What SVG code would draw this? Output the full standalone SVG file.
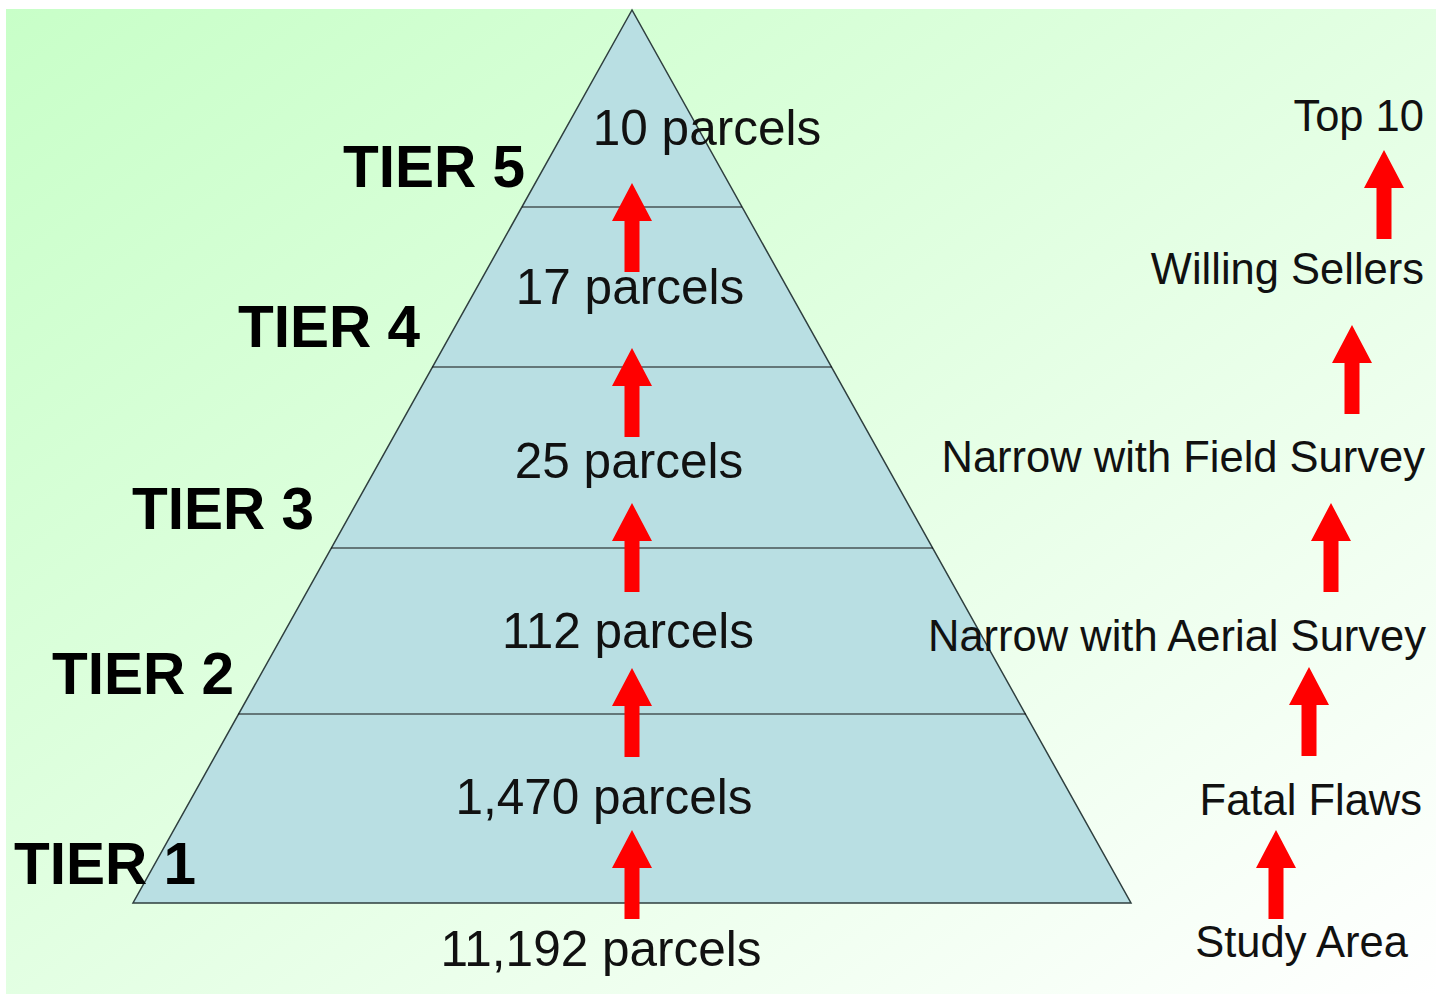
<svg xmlns="http://www.w3.org/2000/svg" xmlns:xlink="http://www.w3.org/1999/xlink" width="1445" height="994" viewBox="0 0 1445 994">
<style>
.num{font-family:"Liberation Sans",Arial,sans-serif;font-size:49.5px;fill:#111;text-anchor:middle}
.tier{font-family:"Liberation Sans",Arial,sans-serif;font-size:58.5px;font-weight:bold;fill:#000}
.lbl{font-family:"Liberation Sans",Arial,sans-serif;font-size:43.5px;fill:#111;text-anchor:end}
.tl{stroke:#111;stroke-width:1.2}
.arr{fill:#FF0000}
</style>
<defs>
<linearGradient id="bg" x1="0" y1="0" x2="1" y2="1">
<stop offset="0" stop-color="#C8FFC8"/>
<stop offset="0.4" stop-color="#DDFFDD"/>
<stop offset="1" stop-color="#FFFFFF"/>
</linearGradient>
<path id="arrow" d="M0,0 L20,38 L7.5,38 L7.5,89 L-7.5,89 L-7.5,38 L-20,38 Z"/>
</defs>
<rect width="1445" height="994" fill="#FFFFFF"/>
<rect x="6" y="9" width="1430" height="985" fill="url(#bg)"/>
<g id="pyramid">
<polygon points="632,10 133,903 1131,903" fill="#B9DFE3" stroke="#2F3F3F" stroke-width="1.5"/>
<line class="tl" x1="522" y1="207" x2="742" y2="207"/>
<line class="tl" x1="432" y1="367" x2="832" y2="367"/>
<line class="tl" x1="331" y1="548" x2="933" y2="548"/>
<line class="tl" x1="238" y1="714" x2="1026" y2="714"/>
</g>
<g id="tier5"><text class="tier" x="343" y="187">TIER 5</text><text class="num" x="707" y="145">10 parcels</text></g>
<g id="tier4"><text class="tier" x="238" y="347">TIER 4</text><text class="num" x="630" y="304">17 parcels</text></g>
<g id="tier3"><text class="tier" x="132" y="529">TIER 3</text><text class="num" x="629" y="478">25 parcels</text></g>
<g id="tier2"><text class="tier" x="52" y="694">TIER 2</text><text class="num" x="628" y="648">112 parcels</text></g>
<g id="tier1"><text class="tier" x="14" y="884">TIER 1</text><text class="num" x="604" y="814">1,470 parcels</text></g>
<g id="base"><text class="num" x="601" y="966">11,192 parcels</text></g>
<g id="steps">
<text class="lbl" x="1424" y="131">Top 10</text>
<text class="lbl" x="1424" y="284">Willing Sellers</text>
<text class="lbl" x="1425" y="472">Narrow with Field Survey</text>
<text class="lbl" x="1426" y="651">Narrow with Aerial Survey</text>
<text class="lbl" x="1422" y="815">Fatal Flaws</text>
<text class="lbl" x="1408" y="957">Study Area</text>
</g>
<g id="connectors" class="arr">
<use xlink:href="#arrow" x="632" y="183"/>
<use xlink:href="#arrow" x="632" y="348"/>
<use xlink:href="#arrow" x="632" y="503"/>
<use xlink:href="#arrow" x="632" y="668"/>
<use xlink:href="#arrow" x="632" y="830"/>
<use xlink:href="#arrow" x="1384" y="150"/>
<use xlink:href="#arrow" x="1352" y="325"/>
<use xlink:href="#arrow" x="1331" y="503"/>
<use xlink:href="#arrow" x="1309" y="667"/>
<use xlink:href="#arrow" x="1276" y="830"/>
</g>
</svg>
